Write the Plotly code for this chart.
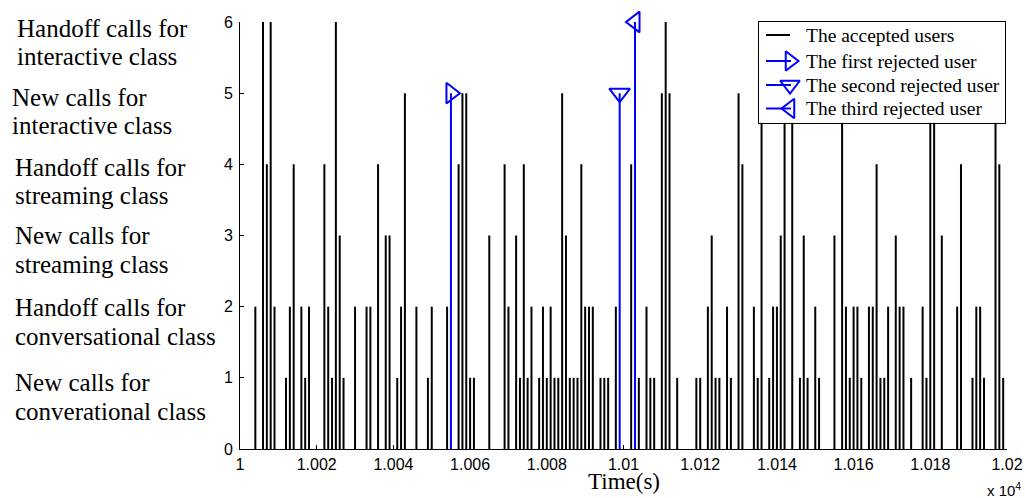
import plotly.graph_objects as go

# Arrival times (s) and call type index of the accepted users
accepted_t = [
    10004, 10006, 10007, 10008, 10009, 10012, 10013, 10014, 10016, 10017,
    10018, 10022, 10023, 10024, 10025, 10026, 10027, 10030, 10033, 10034,
    10036, 10038, 10039, 10041, 10042, 10043, 10046, 10049, 10050, 10054,
    10057, 10058, 10059, 10060, 10061, 10065, 10069, 10070, 10072, 10073,
    10074, 10075, 10076, 10078, 10079, 10080, 10081, 10082, 10083, 10084,
    10085, 10086, 10087, 10088, 10089, 10090, 10091, 10092, 10094, 10095,
    10096, 10098, 10102, 10104, 10106, 10107, 10108, 10110, 10111, 10112,
    10114, 10119, 10120, 10122, 10123, 10124, 10125, 10127, 10128, 10130,
    10131, 10134, 10135, 10136, 10138, 10139, 10140, 10141, 10142, 10144,
    10146, 10147, 10148, 10150, 10151, 10155, 10157, 10158, 10159, 10160,
    10161, 10162, 10164, 10165, 10166, 10167, 10168, 10169, 10171, 10172,
    10173, 10175, 10178, 10179, 10180, 10181, 10183, 10187, 10188, 10191,
    10192, 10193, 10194, 10197, 10198, 10199,
]
accepted_n = [
    2, 6, 4, 6, 2, 1, 2, 4, 2, 1,
    2, 4, 2, 1, 6, 3, 1, 2, 2, 2,
    4, 3, 3, 1, 2, 5, 2, 1, 2, 2,
    4, 5, 5, 1, 1, 3, 4, 2, 3, 1,
    4, 1, 2, 1, 2, 1, 2, 1, 1, 5,
    3, 1, 1, 1, 4, 2, 2, 2, 1, 1,
    1, 2, 4, 1, 2, 1, 1, 5, 6, 5,
    1, 1, 1, 2, 3, 1, 1, 2, 1, 5,
    4, 2, 1, 6, 1, 2, 2, 3, 6, 6,
    1, 3, 1, 2, 1, 3, 6, 2, 1, 2,
    2, 1, 2, 2, 4, 1, 1, 2, 3, 2,
    2, 1, 2, 1, 6, 6, 3, 2, 4, 1,
    2, 2, 1, 6, 4, 1,
]

# The three rejected users
rejected_t = [10055, 10099, 10103]
rejected_n = [5, 5, 6]
rejected_names = ["The first rejected user", "The second rejected user", "The third rejected user"]
rejected_symbols = ["triangle-right-open", "triangle-down-open", "triangle-left-open"]

# Axis ticks
x_tickvals = [10000, 10020, 10040, 10060, 10080, 10100, 10120, 10140, 10160, 10180, 10200]
x_ticktext = ["1", "1.002", "1.004", "1.006", "1.008", "1.01", "1.012", "1.014", "1.016", "1.018", "1.02"]
y_tickvals = [0, 1, 2, 3, 4, 5, 6]

# Descriptions of the call types (one per y level)
class_labels = [
    ("New calls for", "converational class"),
    ("Handoff calls for", "conversational class"),
    ("New calls for", "streaming class"),
    ("Handoff calls for", "streaming class"),
    ("New calls for", "interactive class"),
    ("Handoff calls for", "interactive class"),
]

SERIF = "Liberation Serif"
SANS = "Liberation Sans"
BLUE = "#0000FF"


def stems(ts, ns):
    xs, ys = [], []
    for t, n in zip(ts, ns):
        xs += [t, t, None]
        ys += [0, n, None]
    return xs, ys


fig = go.Figure()

sx, sy = stems(accepted_t, accepted_n)
fig.add_trace(go.Scatter(x=sx, y=sy, mode="lines", line=dict(color="black", width=2),
                         showlegend=False, hoverinfo="skip"))

for t, n, sym in zip(rejected_t, rejected_n, rejected_symbols):
    bx, by = stems([t], [n])
    fig.add_trace(go.Scatter(x=bx, y=by, mode="lines", line=dict(color=BLUE, width=2),
                             showlegend=False, hoverinfo="skip"))
    fig.add_trace(go.Scatter(x=[t], y=[n], mode="markers", cliponaxis=False,
                             marker=dict(symbol=sym, size=18, color=BLUE,
                                         line=dict(color=BLUE, width=2)),
                             showlegend=False, hoverinfo="skip"))

# Legend drawn in its own small subplot (pixel units inside the box)
LEG_W, LEG_H = 246, 100.7
fig.add_trace(go.Scatter(x=[0, LEG_W, LEG_W, 0, 0], y=[0, 0, LEG_H, LEG_H, 0],
                         fill="toself", fillcolor="white", line=dict(width=0),
                         mode="lines", xaxis="x2", yaxis="y2",
                         showlegend=False, hoverinfo="skip"))
legend_rows = [13, 39, 63, 86.5]
legend_names = ["The accepted users"] + rejected_names
fig.add_trace(go.Scatter(x=[7, 31], y=[legend_rows[0]] * 2, mode="lines",
                         line=dict(color="black", width=2), xaxis="x2", yaxis="y2",
                         showlegend=False, hoverinfo="skip"))
for row, sym in zip(legend_rows[1:], rejected_symbols):
    fig.add_trace(go.Scatter(x=[7, 32], y=[row, row], mode="lines",
                             line=dict(color=BLUE, width=2), xaxis="x2", yaxis="y2",
                             showlegend=False, hoverinfo="skip"))
    fig.add_trace(go.Scatter(x=[31], y=[row], mode="markers", cliponaxis=False,
                             marker=dict(symbol=sym, size=17, color=BLUE,
                                         line=dict(color=BLUE, width=2)),
                             xaxis="x2", yaxis="y2", showlegend=False, hoverinfo="skip"))

annotations = []
for row, name in zip(legend_rows, legend_names):
    annotations.append(dict(x=45, y=row, xref="x2", yref="y2", text=name, showarrow=False,
                            xanchor="left", yanchor="middle",
                            font=dict(family=SERIF, size=19.5, color="black")))

# Category descriptions left of the y axis
label_left = [-227, -227, -227, -227, -230, -225]
label_drop = [5, 1, 0, 3, 4, 6]
for lvl, ((l1, l2), dx, dy) in enumerate(zip(class_labels, label_left, label_drop), start=1):
    for k, line in enumerate((l1, l2)):
        annotations.append(dict(x=0, y=lvl, xref="paper", yref="y", text=line, showarrow=False,
                                xanchor="left", yanchor="middle", xshift=dx,
                                yshift=-(dy + 28.5 * k),
                                font=dict(family=SERIF, size=25, color="black")))

annotations.append(dict(x=0.5, y=0, xref="paper", yref="paper", text="Time(s)", showarrow=False,
                        xanchor="center", yanchor="middle", yshift=-32,
                        font=dict(family=SERIF, size=23, color="black")))
annotations.append(dict(x=1, y=0, xref="paper", yref="paper", text="x 10<sup>4</sup>",
                        showarrow=False, xanchor="center", yanchor="middle",
                        xshift=-3, yshift=-40,
                        font=dict(family=SANS, size=15, color="black")))

fig.update_layout(
    width=1025, height=498,
    margin=dict(l=240, r=18, t=22, b=49),
    paper_bgcolor="white", plot_bgcolor="white",
    showlegend=False,
    annotations=annotations,
    xaxis=dict(range=[10000, 10200], tickmode="array", tickvals=x_tickvals, ticktext=x_ticktext,
               ticks="inside", ticklen=4, tickcolor="black", tickwidth=1,
               showline=True, linecolor="black", linewidth=1, mirror=False,
               showgrid=False, zeroline=False, ticklabelstandoff=1, automargin=False,
               tickfont=dict(family=SANS, size=16, color="black")),
    yaxis=dict(range=[0, 6], tickmode="array", tickvals=y_tickvals,
               ticks="inside", ticklen=4, tickcolor="black", tickwidth=1,
               showline=True, linecolor="black", linewidth=1, mirror=False,
               showgrid=False, zeroline=False, ticklabelstandoff=3, automargin=False,
               tickfont=dict(family=SANS, size=16, color="black")),
    xaxis2=dict(domain=[(759 - 240) / 767, (1005 - 240) / 767], range=[0, LEG_W], anchor="y2",
                showline=True, mirror=True, linecolor="black", linewidth=1, automargin=False,
                showgrid=False, zeroline=False, showticklabels=False, ticks=""),
    yaxis2=dict(domain=[1 - LEG_H / 427, 1.0], range=[LEG_H, 0], anchor="x2",
                showline=True, mirror=True, linecolor="black", linewidth=1, automargin=False,
                showgrid=False, zeroline=False, showticklabels=False, ticks=""),
)

fig.write_html("out.html")
